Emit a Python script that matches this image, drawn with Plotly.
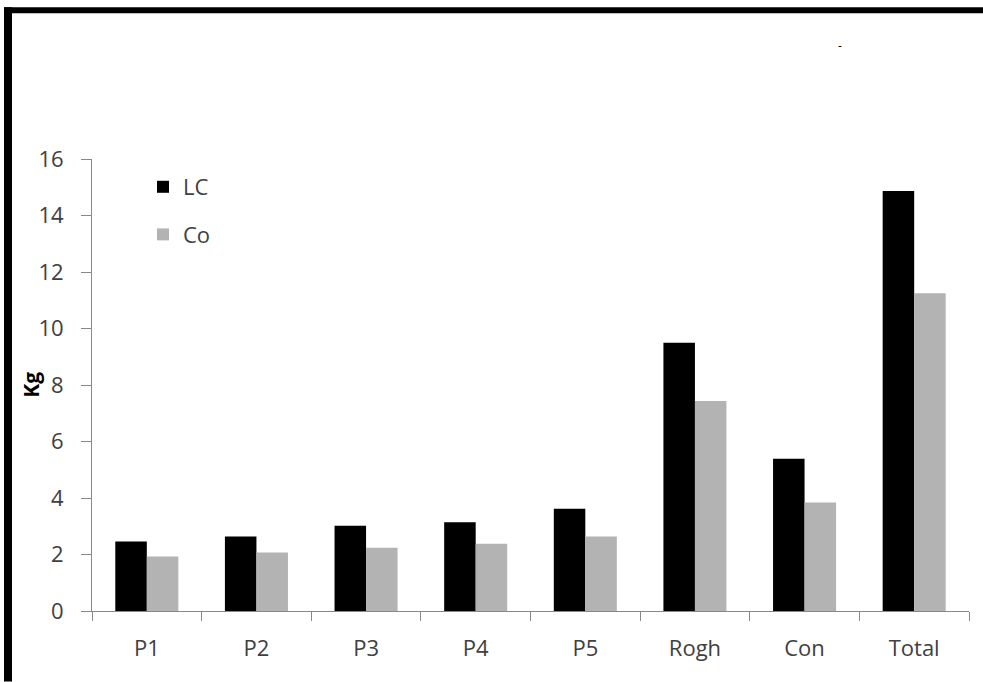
import plotly.graph_objects as go

categories = ["P1", "P2", "P3", "P4", "P5", "Rogh", "Con", "Total"]
lc_values = [2.46, 2.64, 3.02, 3.14, 3.62, 9.50, 5.39, 14.87]
co_values = [1.93, 2.07, 2.24, 2.38, 2.64, 7.43, 3.84, 11.25]
y_ticks = [0, 2, 4, 6, 8, 10, 12, 14, 16]

W, H = 983, 682
ML, MR, MT, MB = 92, 14, 159, 70.5
PW = W - ML - MR
PH = H - MT - MB


def px_x(p):
    return (p - ML) / PW


def px_y(p):
    return (H - MB - p) / PH


FONT = "Open Sans"
TXT = "#404040"
AXC = "#888888"
FS = 22

fig = go.Figure()
fig.add_trace(go.Bar(x=categories, y=lc_values, name="LC",
                     marker=dict(color="#000000", line=dict(width=0)),
                     legendgroup="a"))
fig.add_trace(go.Bar(x=categories, y=co_values, name="Co",
                     marker=dict(color="#b3b3b3", line=dict(width=0)),
                     legendgroup="b"))

fig.update_layout(
    width=W, height=H,
    margin=dict(l=ML, r=MR, t=MT, b=MB, pad=0),
    paper_bgcolor="white", plot_bgcolor="white",
    barmode="group", bargap=0.425, bargroupgap=0,
    font=dict(family=FONT, size=FS, color=TXT),
    showlegend=True,
    legend=dict(x=px_x(143), y=px_y(166), xanchor="left", yanchor="top",
                traceorder="grouped", tracegroupgap=16,
                bgcolor="rgba(0,0,0,0)",
                font=dict(family=FONT, size=FS, color=TXT)),
    xaxis=dict(showline=True, linecolor=AXC, linewidth=1,
               ticks="outside", ticklen=9, tickcolor=AXC, tickwidth=1,
               tickson="boundaries", showgrid=False, zeroline=False,
               ticklabelstandoff=18,
               tickfont=dict(family=FONT, size=FS, color=TXT)),
    yaxis=dict(range=[0, 16], tickvals=y_ticks,
               showline=True, linecolor=AXC, linewidth=1,
               ticks="outside", ticklen=10, tickcolor=AXC, tickwidth=1,
               showgrid=False, zeroline=False,
               ticklabelstandoff=13,
               tickfont=dict(family=FONT, size=FS, color=TXT)),
    shapes=[
        dict(type="line", xref="paper", yref="paper",
             x0=px_x(4), x1=px_x(983), y0=px_y(10), y1=px_y(10),
             line=dict(color="black", width=6), layer="above"),
        dict(type="line", xref="paper", yref="paper",
             x0=px_x(8), x1=px_x(8), y0=px_y(7), y1=px_y(682),
             line=dict(color="black", width=8), layer="above"),
    ],
    annotations=[
        dict(text="<b>Kg</b>", xref="paper", yref="paper",
             x=px_x(31), y=px_y(385), textangle=-90, showarrow=False,
             font=dict(family=FONT, size=21, color="#000000"),
             xanchor="center", yanchor="middle"),
        dict(text="-", xref="paper", yref="paper", x=px_x(840), y=px_y(45),
             showarrow=False, font=dict(family=FONT, size=12, color="#000000"),
             xanchor="center", yanchor="middle"),
    ],
)

fig.write_html("out.html",
               config={"displayModeBar": False},
               post_script="document.body.style.margin='0';document.body.style.overflow='hidden';")
